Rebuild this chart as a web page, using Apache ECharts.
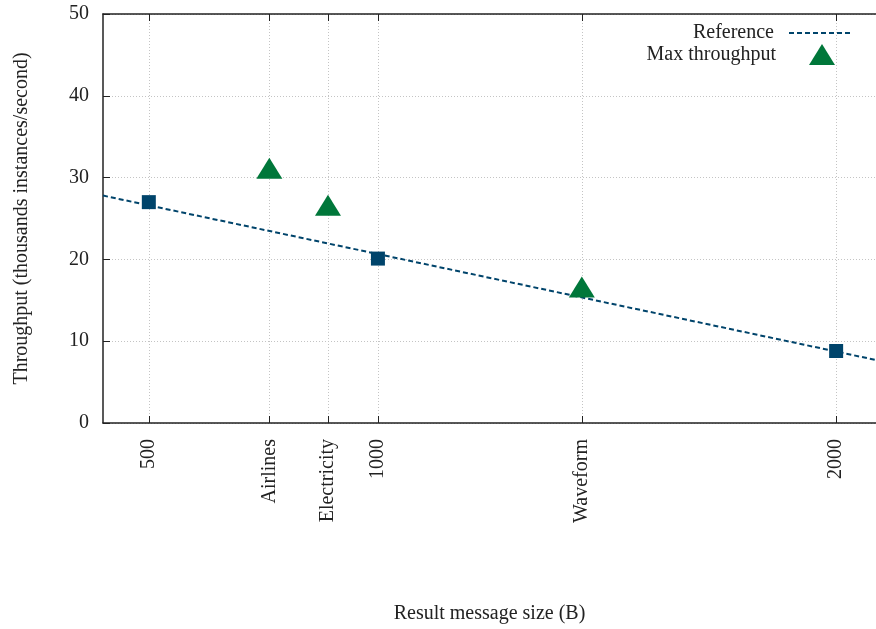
<!DOCTYPE html>
<html>
<head>
<meta charset="utf-8">
<script src="https://cdn.jsdelivr.net/npm/echarts@6/dist/echarts.min.js"></script>
<style>html,body{margin:0;padding:0;background:#fff}#c{width:876px;height:629px}</style>
</head>
<body>
<div id="c"></div>
<script>
// Reference line (end points) and reference points
const refLineX = [400, 2087];
const refLineY = [27.8, 7.7];
const refX = [500, 1000, 2000];
const refY = [27.0, 20.1, 8.8];
// Max throughput per dataset
const datasetNames = ['Airlines', 'Electricity', 'Waveform'];
const datasetX = [763, 891, 1445];
const maxY = [30.7, 26.2, 16.2];
// X tick values and labels
const xTickValues = [500, 763, 891, 1000, 1445, 2000];
const xTickLabels = ['500', 'Airlines', 'Electricity', '1000', 'Waveform', '2000'];

const FONT = 'Liberation Serif';
const FS = 20;
const BLUE = '#00446b';
const GREEN = '#00773a';
const chart = echarts.init(document.getElementById('c'));
const fmtX = v => { const i = xTickValues.indexOf(v); return i >= 0 ? xTickLabels[i] : ''; };

chart.setOption({
  animation: false,
  backgroundColor: '#fff',
  textStyle: { fontFamily: FONT },
  grid: { left: 103, top: 14, right: 0, bottom: 205 },
  legend: [
    {
      data: ['Reference'], right: 24, top: 23, align: 'right', padding: 0,
      itemWidth: 62, itemHeight: 18,
      itemStyle: { opacity: 0, borderWidth: 0 },
      lineStyle: { color: BLUE, width: 2, type: [5, 3], opacity: 1 },
      textStyle: { fontFamily: FONT, fontSize: FS, color: '#222', padding: [0, 10, 0, 0] }
    },
    {
      data: ['Max throughput'], right: 41, top: 44, align: 'right', padding: 0,
      itemWidth: 26, itemHeight: 21,
      textStyle: { fontFamily: FONT, fontSize: FS, color: '#222', padding: [0, 28, 0, 0] }
    }
  ],
  xAxis: [
    {
      type: 'value', min: 400, max: 2087, position: 'bottom',
      name: 'Result message size (B)', nameLocation: 'middle', nameGap: 181,
      nameTextStyle: { fontFamily: FONT, fontSize: FS, color: '#222' },
      axisLine: { show: true, onZero: false, lineStyle: { color: '#222', width: 1.5 } },
      axisTick: { show: true, inside: true, length: 7, customValues: xTickValues, lineStyle: { color: '#222' } },
      axisLabel: { show: true, rotate: 90, margin: 16, customValues: xTickValues, formatter: fmtX,
        fontFamily: FONT, fontSize: FS, color: '#222' },
      splitLine: { show: false }
    },
    {
      type: 'value', min: 400, max: 2087, position: 'top',
      axisLine: { show: true, onZero: false, lineStyle: { color: '#222', width: 1.5 } },
      axisTick: { show: true, inside: true, length: 7, customValues: xTickValues, lineStyle: { color: '#222' } },
      axisLabel: { show: false },
      splitLine: { show: false }
    }
  ],
  yAxis: {
    type: 'value', min: 0, max: 50, interval: 10,
    name: 'Throughput (thousands instances/second)', nameLocation: 'middle', nameGap: 71,
    nameTextStyle: { fontFamily: FONT, fontSize: FS, color: '#222' },
    axisLine: { show: true, onZero: false, lineStyle: { color: '#222', width: 1.5 } },
    axisTick: { show: true, inside: true, length: 7, lineStyle: { color: '#222' } },
    axisLabel: { margin: 14, fontFamily: FONT, fontSize: FS, color: '#222' },
    splitLine: { show: true, lineStyle: { color: '#c4c4c4', width: 1, type: [1, 2] } }
  },
  series: [
    {
      name: 'gridX', type: 'line', data: [], silent: true, z: 0, zlevel: 0,
      markLine: {
        symbol: 'none', silent: true, label: { show: false }, z: 0,
        lineStyle: { color: '#c4c4c4', width: 1, type: [1, 2] },
        data: xTickValues.map(v => ({ xAxis: v }))
      }
    },
    {
      name: 'Reference', type: 'line', showSymbol: false, symbol: 'none',
      data: refLineX.map((x, i) => [x, refLineY[i]]),
      lineStyle: { color: BLUE, width: 2, type: [5, 3] }, itemStyle: { color: BLUE }, z: 3
    },
    {
      name: 'Reference points', type: 'scatter', symbol: 'rect', symbolSize: 14,
      data: refX.map((x, i) => [x, refY[i]]),
      itemStyle: { color: BLUE, opacity: 1 }, z: 6
    },
    {
      name: 'Max throughput', type: 'scatter', symbol: 'triangle', symbolSize: [26, 21],
      symbolOffset: [0, -3.5],
      data: datasetX.map((x, i) => ({ name: datasetNames[i], value: [x, maxY[i]] })),
      itemStyle: { color: GREEN, opacity: 1 }, z: 7
    }
  ]
});
</script>
</body>
</html>
